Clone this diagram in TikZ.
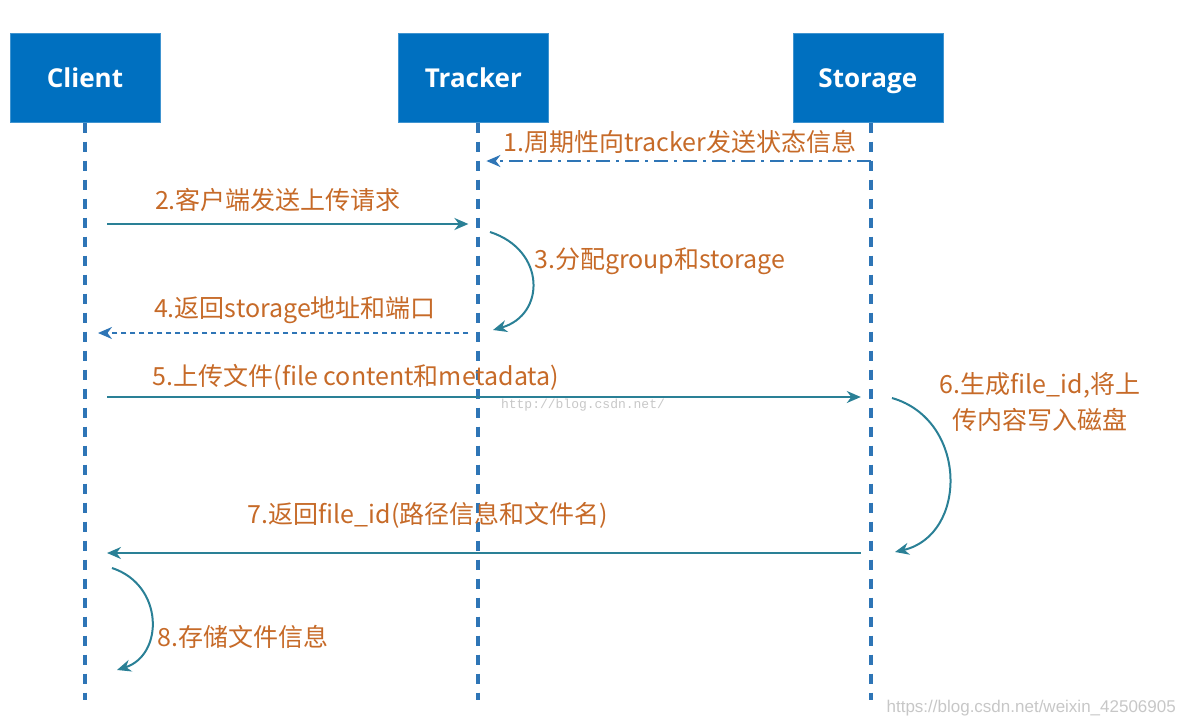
\documentclass[tikz,border=0pt]{standalone}
\usepackage{fontspec}
\newfontfamily\cjk{Noto Sans CJK SC}
\newfontfamily\headfont{Open Sans}
\newfontfamily\markfont{Liberation Mono}
\newfontfamily\plainsans{Liberation Sans}
\usetikzlibrary{arrows.meta, positioning, calc}
\definecolor{actorBlue}{RGB}{0, 112, 192}
\definecolor{lifeBlue}{RGB}{46, 117, 182}
\definecolor{msgTeal}{RGB}{42, 128, 150}
\definecolor{labelOrange}{RGB}{198, 106, 40}
\tikzset{
    % Participant Boxes
    actor/.style={
        rectangle,
        fill=actorBlue,
        draw=actorBlue!75!white,
        minimum width=150pt,
        minimum height=89pt,
        text height=19pt,
        text depth=1pt,
        text=white,
        font=\headfont\bfseries\fontsize{26}{30}\selectfont
    },
    % Lifelines & Messages
    lifeline/.style={draw=lifeBlue, line width=4pt, dash pattern=on 10pt off 9pt},
    msg/.style={-{Stealth[length=14pt, width=12pt]}, line width=2pt, draw=msgTeal},
    notify/.style={msg, draw=lifeBlue, dash pattern=on 14pt off 6pt on 3pt off 6pt},
    reply/.style={msg, draw=lifeBlue, dash pattern=on 5pt off 4pt},
    selfcall/.style={msg, draw=msgTeal},
    % Labels
    msgLabel/.style={text=labelOrange, font=\cjk\fontsize{25}{36}\selectfont, inner sep=0pt},
    watermark/.style={text=black!22, inner sep=0pt}
}

\begin{document}
\begin{tikzpicture}[x=1pt, y=-1pt, node distance=0pt and 238pt]
    \useasboundingbox (0,0) rectangle (1184,726);

    % --- PARTICIPANTS ---
    \node (client) [actor] at (85,78) {Client};
    \node (tracker) [actor, right=of client] {Tracker};
    \node (storage) [actor, right=244pt of tracker] {Storage};

    % --- LIFELINES ---
    \coordinate (clientTop) at (client.south);
    \coordinate (trackerTop) at ($(tracker.south)+(5,0)$);
    \coordinate (storageTop) at ($(storage.south)+(3,0)$);
    \coordinate (clientEnd) at (clientTop |- 0,700);
    \coordinate (trackerEnd) at (trackerTop |- 0,700);
    \coordinate (storageEnd) at (storageTop |- 0,700);
    \draw [lifeline] (clientTop) -- (clientEnd);
    \draw [lifeline] (trackerTop) -- (trackerEnd);
    \draw [lifeline] (storageTop) -- (storageEnd);

    % --- MESSAGE END POINTS ---
    \coordinate (m1a) at (storageTop |- 0,161);
    \coordinate (m1b) at ($(trackerTop |- 0,161)+(8,0)$);
    \coordinate (m2a) at ($(clientTop |- 0,224)+(22,0)$);
    \coordinate (m2b) at ($(trackerTop |- 0,224)+(-10,0)$);
    \coordinate (m3a) at (490,232);
    \coordinate (m3b) at (493,330);
    \coordinate (m4a) at ($(trackerTop |- 0,333)+(-10,0)$);
    \coordinate (m4b) at ($(clientTop |- 0,333)+(13,0)$);
    \coordinate (m5a) at ($(clientTop |- 0,397)+(22,0)$);
    \coordinate (m5b) at ($(storageTop |- 0,397)+(-10,0)$);
    \coordinate (m6a) at (892,398);
    \coordinate (m6b) at (895,552);
    \coordinate (m7a) at ($(storageTop |- 0,553)+(-10,0)$);
    \coordinate (m7b) at ($(clientTop |- 0,553)+(22,0)$);
    \coordinate (m8a) at (112,568);
    \coordinate (m8b) at (117,670);

    % --- MESSAGES ---
    \draw [notify] (m1a) -- (m1b);
    \draw [msg] (m2a) -- (m2b);
    \draw [selfcall] (m3a) .. controls (546,250) and (546,315) .. (m3b);
    \draw [reply] (m4a) -- (m4b);
    \draw [msg] (m5a) -- (m5b);
    \draw [selfcall] (m6a) .. controls (968,420) and (968,535) .. (m6b);
    \draw [msg] (m7a) -- (m7b);
    \draw [selfcall] (m8a) .. controls (164,585) and (164,655) .. (m8b);

    % --- LABELS ---
    \node (lbl1) [msgLabel] at (680,142) {1.周期性向tracker发送状态信息};
    \node (lbl2) [msgLabel] at (278,200) {2.客户端发送上传请求};
    \node (lbl3) [msgLabel, anchor=west] at (534,261) {3.分配group和storage};
    \node (lbl4) [msgLabel] at (295,310) {4.返回storage地址和端口};
    \node (lbl5) [msgLabel] at (356,377) {5.上传文件(file content和metadata)};
    \node (lbl6) [msgLabel, align=center] at (1040,402) {6.生成file\_id,将上\\传内容写入磁盘};
    \node (lbl7) [msgLabel] at (428,515) {7.返回file\_id(路径信息和文件名)};
    \node (lbl8) [msgLabel, anchor=west] at (157,637) {8.存储文件信息};

    % --- WATERMARKS ---
    \node (mark1) [watermark, font=\markfont\fontsize{13}{15}\selectfont] at (583,405) {http://blog.csdn.net/};
    \node (mark2) [watermark, font=\plainsans\fontsize{17}{20}\selectfont, anchor=east] at (1176,708) {https://blog.csdn.net/weixin\_42506905};

\end{tikzpicture}
\end{document}
